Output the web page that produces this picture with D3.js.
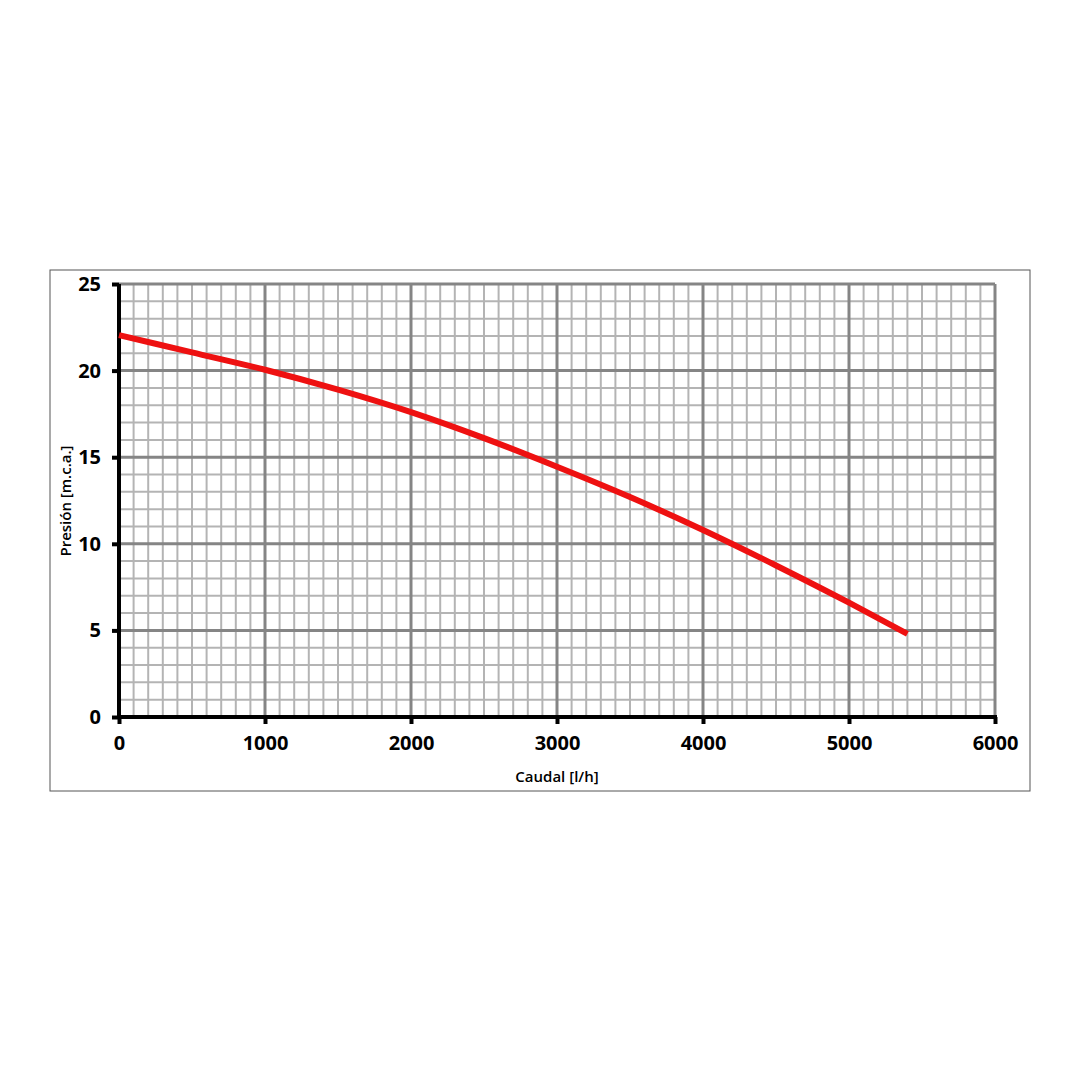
<!DOCTYPE html>
<html><head><meta charset="utf-8">
<script src="https://cdn.jsdelivr.net/npm/d3@7"></script>
<style>body{margin:0;background:#fff}svg{display:block}</style>
</head><body>
<svg id="c" width="1080" height="1080"></svg>
<script>
const caudal = [0, 500, 1000, 1500, 2000, 2500, 3000, 3500, 4000, 4500, 5000, 5400];
const presion = [22.05, 21.05, 20.05, 18.9, 17.6, 16.1, 14.45, 12.7, 10.8, 8.75, 6.6, 4.8];
const xTicks = [0, 1000, 2000, 3000, 4000, 5000, 6000];
const yTicks = [0, 5, 10, 15, 20, 25];
const xTitle = "Caudal [l/h]";
const yTitle = "Presión [m.c.a.]";

const svg = d3.select("#c");
const L = 119, R = 995, T = 284, B = 717;
const x = d3.scaleLinear().domain([0, 6000]).range([L, R]);
const y = d3.scaleLinear().domain([0, 25]).range([B, T]);

svg.append("rect").attr("x", 50).attr("y", 270).attr("width", 980).attr("height", 521)
  .attr("fill", "#fff").attr("stroke", "#555").attr("stroke-width", 1);

const g = svg.append("g");
// minor grid
const xMinor = d3.range(0, 6001, 100).filter(v => v % 1000 !== 0);
const yMinor = d3.range(0, 26, 1).filter(v => v % 5 !== 0);
g.selectAll(".xm").data(xMinor).join("line")
  .attr("x1", d => x(d)).attr("x2", d => x(d)).attr("y1", T).attr("y2", B)
  .attr("stroke", "#b4b4b4").attr("stroke-width", 2);
g.selectAll(".ym").data(yMinor).join("line")
  .attr("y1", d => y(d)).attr("y2", d => y(d)).attr("x1", L).attr("x2", R)
  .attr("stroke", "#b4b4b4").attr("stroke-width", 2);
// major grid
g.selectAll(".xM").data(xTicks).join("line")
  .attr("x1", d => x(d)).attr("x2", d => x(d)).attr("y1", T).attr("y2", B)
  .attr("stroke", "#858585").attr("stroke-width", 3);
g.selectAll(".yM").data(yTicks).join("line")
  .attr("y1", d => y(d)).attr("y2", d => y(d)).attr("x1", L).attr("x2", R)
  .attr("stroke", "#858585").attr("stroke-width", 3);

// axes
const font = "'Open Sans', 'Noto Sans', sans-serif";
const xAxis = svg.append("g").attr("transform", `translate(0,${B})`)
  .call(d3.axisBottom(x).tickValues(xTicks).tickSize(7).tickPadding(12).tickFormat(d3.format("d")));
const yAxis = svg.append("g").attr("transform", `translate(${L},0)`)
  .call(d3.axisLeft(y).tickValues(yTicks).tickSize(7).tickPadding(11).tickFormat(d3.format("d")));
[xAxis, yAxis].forEach(a => {
  a.select(".domain").attr("stroke", "#000").attr("stroke-width", 4);
  a.selectAll(".tick line").attr("stroke", "#000").attr("stroke-width", 4);
  a.selectAll(".tick text").attr("fill", "#000").style("font-family", font)
    .style("font-size", "20px").style("font-weight", "700");
});
xAxis.selectAll(".domain").attr("d", `M${L-2},0H${R+2}`);
yAxis.selectAll(".domain").attr("d", `M0,${T}V${B+2}`);

// curve
const line = d3.line().x((d, i) => x(caudal[i])).y(d => y(d)).curve(d3.curveMonotoneX);
svg.append("path").datum(presion).attr("d", line)
  .attr("fill", "none").attr("stroke", "#ee1111").attr("stroke-width", 6);

// titles
svg.append("text").attr("x", 557).attr("y", 782).attr("text-anchor", "middle")
  .style("font-family", font).style("font-size", "15px").style("font-weight", "600").text(xTitle);
svg.append("text").attr("transform", `translate(71,501) rotate(-90)`).attr("text-anchor", "middle")
  .style("font-family", font).style("font-size", "15px").style("font-weight", "600").text(yTitle);
</script>
</body></html>
